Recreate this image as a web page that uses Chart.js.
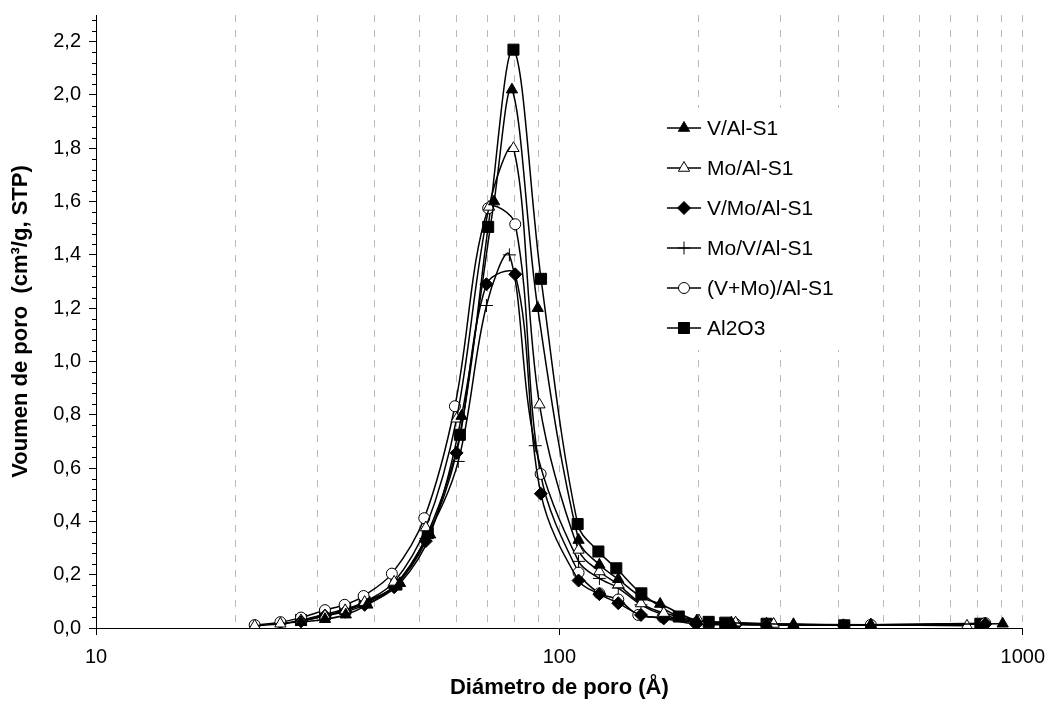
<!DOCTYPE html>
<html>
<head>
<meta charset="utf-8">
<script src="https://cdn.jsdelivr.net/npm/chart.js@4.4.0/dist/chart.umd.min.js"></script>
<style>
  html, body { margin: 0; padding: 0; background: #fff; }
</style>
</head>
<body>
<canvas id="chart" width="1055" height="708"></canvas>
<script>
// pore diameter (Å) and pore volume (cm3/g) per sample
const vAlX = [27.7, 31.2, 34.6, 38.5, 45.3, 52.6, 61.5, 72.3, 79.0, 89.8, 110, 122, 134, 150, 165, 198, 235, 280, 320, 470, 905];
const vAlY = [0.022, 0.033, 0.05, 0.087, 0.168, 0.35, 0.795, 1.60, 2.02, 1.20, 0.33, 0.237, 0.183, 0.117, 0.09, 0.028, 0.02, 0.016, 0.014, 0.012, 0.016];

const moAlX = [22, 25, 27.7, 31.2, 34.5, 38, 44, 51.5, 60, 70.5, 79.6, 90.6, 110, 122, 134, 150, 168, 200, 240, 290, 470, 758];
const moAlY = [0.008, 0.016, 0.028, 0.046, 0.066, 0.097, 0.173, 0.377, 0.785, 1.58, 1.80, 0.838, 0.293, 0.212, 0.163, 0.092, 0.056, 0.028, 0.02, 0.015, 0.012, 0.008];

const vMoAlX = [27.7, 31.2, 34.5, 38, 44, 51.5, 60, 69.6, 80.3, 91.2, 110, 122, 134, 150, 168, 197, 240, 280, 410, 830];
const vMoAlY = [0.025, 0.046, 0.061, 0.087, 0.153, 0.326, 0.657, 1.29, 1.327, 0.504, 0.178, 0.127, 0.093, 0.049, 0.036, 0.015, 0.012, 0.011, 0.01, 0.015];

const moVAlX = [25, 27.7, 31.2, 34.5, 38, 44, 51.5, 60.5, 69.6, 78, 88.7, 110, 122, 134, 150, 168, 200, 240, 290, 470, 830];
const moVAlY = [0.015, 0.025, 0.046, 0.066, 0.092, 0.158, 0.336, 0.625, 1.21, 1.40, 0.684, 0.25, 0.186, 0.15, 0.087, 0.049, 0.022, 0.016, 0.013, 0.011, 0.015];

const vmoAlX = [22, 25, 27.7, 31.2, 34.4, 37.8, 43.5, 51.1, 59.5, 70.2, 80.3, 91.1, 110, 122, 134, 148, 167, 198, 240, 280, 470, 830];
const vmoAlY = [0.011, 0.022, 0.039, 0.067, 0.087, 0.12, 0.204, 0.412, 0.832, 1.575, 1.515, 0.578, 0.208, 0.13, 0.107, 0.049, 0.04, 0.02, 0.015, 0.012, 0.012, 0.018];

const al2o3X = [27.7, 31.2, 34.5, 38, 44.5, 52, 61, 70.2, 79.6, 91.3, 109.5, 121.4, 132.7, 150.3, 181, 210, 228, 280, 412, 810];
const al2o3Y = [0.03, 0.051, 0.071, 0.097, 0.163, 0.356, 0.725, 1.505, 2.17, 1.31, 0.39, 0.287, 0.224, 0.13, 0.043, 0.023, 0.02, 0.016, 0.01, 0.016];

const seriesNames = ['V/Al-S1', 'Mo/Al-S1', 'V/Mo/Al-S1', 'Mo/V/Al-S1', '(V+Mo)/Al-S1', 'Al2O3'];

const yTicks = [0, 0.2, 0.4, 0.6, 0.8, 1.0, 1.2, 1.4, 1.6, 1.8, 2.0, 2.2];
const xGrid = [10, 20, 30, 40, 50, 60, 70, 80, 90, 100, 200, 300, 400, 500, 600, 700, 800, 900, 1000];
const xLabels = [10, 100, 1000];

const FONT = '"Liberation Sans", Arial, sans-serif';

function pts(xs, ys) {
    return xs.map((x, i) => ({ x: x, y: ys[i] }));
}

function series(label, xs, ys, style, fill, radius) {
    return {
        label: label,
        data: pts(xs, ys),
        showLine: true,
        borderColor: '#000',
        borderWidth: 1.5,
        tension: 0.35,
        pointStyle: style,
        pointRadius: radius,
        pointBackgroundColor: fill,
        pointBorderColor: '#000',
        pointBorderWidth: 1
    };
}

// little ticks between the labelled ones on the y axis
const minorTicks = {
    id: 'minorTicks',
    afterDraw(chart) {
        const y = chart.scales.y, ctx = chart.ctx;
        const x0 = chart.chartArea.left;
        ctx.save();
        ctx.strokeStyle = '#000';
        ctx.lineWidth = 1;
        for (let i = 1; i * 0.04 <= y.max + 1e-9; i++) {
            if (i % 5 === 0) continue;
            const py = Math.round(y.getPixelForValue(i * 0.04)) + 0.5;
            ctx.beginPath();
            ctx.moveTo(x0 - 4, py);
            ctx.lineTo(x0, py);
            ctx.stroke();
        }
        ctx.restore();
    }
};

// Excel-like legend box sitting inside the plot
const boxLegend = {
    id: 'boxLegend',
    afterDatasetsDraw(chart) {
        const ctx = chart.ctx;
        ctx.save();
        ctx.fillStyle = '#fff';
        ctx.fillRect(655, 108, 220, 242);
        chart.data.datasets.forEach((ds, i) => {
            const y = 128 + 40 * i;
            ctx.strokeStyle = '#000';
            ctx.lineWidth = 1.5;
            ctx.beginPath();
            ctx.moveTo(667, y);
            ctx.lineTo(701, y);
            ctx.stroke();
            ctx.fillStyle = ds.pointBackgroundColor;
            ctx.lineWidth = 1;
            Chart.helpers.drawPoint(ctx, {
                pointStyle: ds.pointStyle, radius: ds.pointRadius, rotation: 0, borderWidth: 1
            }, 684, y);
            ctx.fillStyle = '#000';
            ctx.font = '21px ' + FONT;
            ctx.textBaseline = 'middle';
            ctx.fillText(ds.label, 707, y + 1);
        });
        ctx.restore();
    }
};

const myChart = new Chart(document.getElementById('chart'), {
    type: 'scatter',
    data: {
        datasets: [
            series(seriesNames[0], vAlX, vAlY, 'triangle', '#000', 6.5),
            series(seriesNames[1], moAlX, moAlY, 'triangle', '#fff', 6.5),
            series(seriesNames[2], vMoAlX, vMoAlY, 'rectRot', '#000', 6.5),
            series(seriesNames[3], moVAlX, moVAlY, 'cross', '#000', 6.5),
            series(seriesNames[4], vmoAlX, vmoAlY, 'circle', '#fff', 5.5),
            series(seriesNames[5], al2o3X, al2o3Y, 'rect', '#000', 7.8)
        ]
    },
    options: {
        responsive: false,
        animation: false,
        devicePixelRatio: 1,
        layout: { padding: { left: 0, right: 27, top: 15, bottom: 0 } },
        plugins: {
            legend: { display: false },
            tooltip: { enabled: false }
        },
        scales: {
            x: {
                type: 'logarithmic',
                min: 10,
                max: 1000,
                afterBuildTicks: s => { s.ticks = xGrid.map(v => ({ value: v })); },
                afterFit: s => { s.height = 80; },
                ticks: {
                    autoSkip: false,
                    maxRotation: 0,
                    padding: 10,
                    color: '#000',
                    font: { family: FONT, size: 20 },
                    callback: v => xLabels.includes(v) ? String(v) : ''
                },
                grid: {
                    color: '#b9b9b9',
                    lineWidth: 1,
                    tickBorderDash: [],
                    tickLength: 7,
                    tickColor: c => xLabels.includes(c.tick.value) ? '#000' : 'rgba(0,0,0,0)'
                },
                border: { color: '#000', width: 1, dash: [7, 8] },
                title: {
                    display: true,
                    text: 'Diámetro de poro (Å)',
                    color: '#000',
                    font: { family: FONT, size: 22, weight: 'bold' },
                    padding: { top: 0, bottom: 7 }
                }
            },
            y: {
                min: 0,
                max: 2.3,
                afterBuildTicks: s => { s.ticks = yTicks.map(v => ({ value: v })); },
                afterFit: s => { s.width = 96; s.paddingTop = 0; },
                ticks: {
                    padding: 8,
                    color: '#000',
                    font: { family: FONT, size: 20 },
                    callback: v => v.toFixed(1).replace('.', ',')
                },
                grid: {
                    drawOnChartArea: false,
                    tickLength: 7,
                    tickColor: '#000'
                },
                border: { color: '#000', width: 1 },
                title: {
                    display: true,
                    text: 'Voumen de poro  (cm³/g, STP)',
                    color: '#000',
                    font: { family: FONT, size: 22, weight: 'bold' },
                    padding: { top: 8, bottom: 0 }
                }
            }
        }
    },
    plugins: [minorTicks, boxLegend]
});
</script>
</body>
</html>
